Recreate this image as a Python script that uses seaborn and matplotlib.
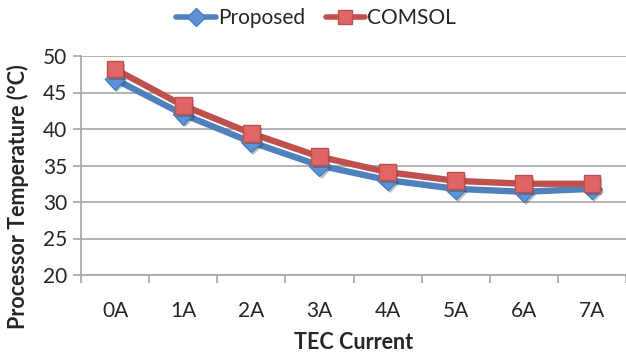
import matplotlib
matplotlib.use("Agg")
import matplotlib.pyplot as plt
import matplotlib.patheffects as pe
import seaborn as sns
import pandas as pd
from matplotlib.lines import Line2D

categories = ["0A", "1A", "2A", "3A", "4A", "5A", "6A", "7A"]
proposed = [46.8, 42.0, 38.2, 35.0, 33.0, 31.8, 31.4, 31.8]
comsol = [48.2, 43.2, 39.4, 36.2, 34.1, 32.9, 32.5, 32.5]
y_ticks = [20, 25, 30, 35, 40, 45, 50]

sns.set_theme(style="white")
plt.rcParams["font.family"] = ["Lato", "DejaVu Sans"]

df = pd.DataFrame({
    "TEC Current": categories * 2,
    "Temperature": proposed + comsol,
    "Series": ["Proposed"] * len(categories) + ["COMSOL"] * len(categories),
})
df["x"] = df["TEC Current"].map({c: i for i, c in enumerate(categories)})

fig = plt.figure(figsize=(6.26, 3.54), dpi=100)
ax = fig.add_axes([81 / 626, 1 - 275 / 354, (626 - 81) / 626, (275 - 56) / 354])

line_colors = {"Proposed": "#4F81BD", "COMSOL": "#C0504D"}
marker_face = {"Proposed": "#5B93D6", "COMSOL": "#E06666"}
marker_edge = {"Proposed": "#4A7EBB", "COMSOL": "#C0504D"}
markers = {"Proposed": "D", "COMSOL": "s"}
msize = {"Proposed": 10.5, "COMSOL": 12}

for name in ["Proposed", "COMSOL"]:
    sub = df[df["Series"] == name]
    sns.lineplot(data=sub, x="x", y="Temperature", ax=ax, color=line_colors[name],
                 linewidth=4.6, legend=False, zorder=3)
    ax.plot(sub["x"], sub["Temperature"], linestyle="none", marker=markers[name],
            markersize=msize[name], markerfacecolor=marker_face[name],
            markeredgecolor=marker_edge[name], markeredgewidth=1.0, zorder=4,
            path_effects=[pe.SimplePatchShadow(offset=(1.5, -2), alpha=0.3), pe.Normal()])

ax.set_xlim(-0.5, len(categories) - 0.5)
ax.set_ylim(20, 50)
ax.set_yticks(y_ticks)
ax.set_xticks([i + 0.5 for i in range(-1, len(categories))])
ax.set_xticklabels([])
ax.set_xticks(range(len(categories)), minor=True)
ax.set_xticklabels(categories, minor=True)

grid_c = "#A6A6A6"
ax.yaxis.grid(True, color=grid_c, linewidth=1.2)
ax.xaxis.grid(False)
ax.set_axisbelow(True)
for s in ["top", "right"]:
    ax.spines[s].set_visible(False)
for s in ["left", "bottom"]:
    ax.spines[s].set_color(grid_c)
    ax.spines[s].set_linewidth(1.2)

ax.tick_params(axis="y", which="major", length=6, width=1.2, color=grid_c,
               direction="out", labelsize=15, pad=4, left=True)
ax.tick_params(axis="x", which="major", length=6, width=1.2, color=grid_c,
               direction="out", bottom=True)
ax.tick_params(axis="x", which="minor", length=0, labelsize=15, pad=19)

ax.set_xlabel("TEC Current", fontsize=15.5, fontweight="bold")
ax.xaxis.set_label_coords(0.5, -0.262)
ax.set_ylabel("Processor Temperature (°C)", fontsize=15.5, fontweight="bold")
ax.yaxis.set_label_coords(-0.095, 0.36)

handles = [
    Line2D([], [], color=line_colors[n], linewidth=4.0, marker=markers[n],
           markersize=msize[n] * 0.85, markerfacecolor=marker_face[n],
           markeredgecolor=marker_edge[n])
    for n in ["Proposed", "COMSOL"]
]
fig.legend(handles, ["Proposed", "COMSOL"], loc="upper center",
           bbox_to_anchor=(0.505, 1.03), ncol=2, frameon=False, fontsize=15,
           handlelength=1.9, handletextpad=0.1, columnspacing=1.0)

fig.savefig("out.png", dpi=100)
